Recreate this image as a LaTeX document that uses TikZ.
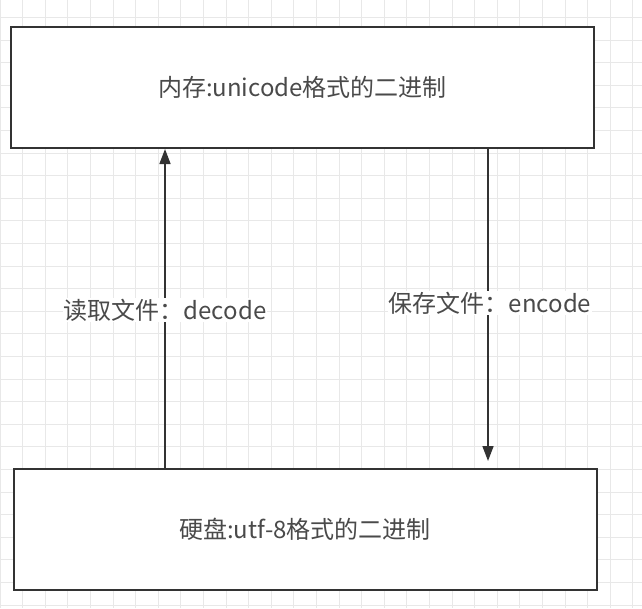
\documentclass[tikz,border=0pt]{standalone}
\usepackage{fontspec}
\setmainfont{Noto Sans CJK SC}
\usetikzlibrary{arrows.meta}
\definecolor{boxc}{HTML}{333333}
\definecolor{txt}{HTML}{4A4A4A}
\definecolor{gridc}{HTML}{E8E8E8}
\begin{document}
\begin{tikzpicture}[x=1pt,y=-1pt,
  box/.style={draw=boxc, line width=2pt, fill=white, minimum width=583pt, minimum height=121pt, inner sep=0pt, text=txt, font=\fontsize{24}{28}\selectfont},
  lbl/.style={fill=white, inner sep=1pt, text=txt, font=\fontsize{24}{28}\selectfont},
  arr/.style={draw=boxc, line width=1.6pt, -{Triangle[length=15pt,width=11pt]}}]
\useasboundingbox (0,0) rectangle (642,608);
\fill[white] (0,0) rectangle (642,608);
\foreach \i in {0,...,28} { \draw[gridc, line width=1pt] (22.6*\i,0) -- (22.6*\i,608); }
\foreach \j in {0,...,26} { \draw[gridc, line width=1pt] (0,17.5+22.6*\j) -- (642,17.5+22.6*\j); }
\node[box] (t) at (302.5,87.5) {内存:unicode格式的二进制};
\node[box] (b) at (305,529) {硬盘:utf-8格式的二进制};
\coordinate (dx) at (165,310);
\coordinate (ex) at (488,303);
\coordinate (etip) at (488,461);
\draw[arr] (b.north -| dx) -- (t.south -| dx);
\draw[arr] (t.south -| ex) -- (etip);
\node[lbl] (dec) at (dx) {读取文件：decode};
\node[lbl] (enc) at (490,303) {保存文件：encode};
\end{tikzpicture}
\end{document}
